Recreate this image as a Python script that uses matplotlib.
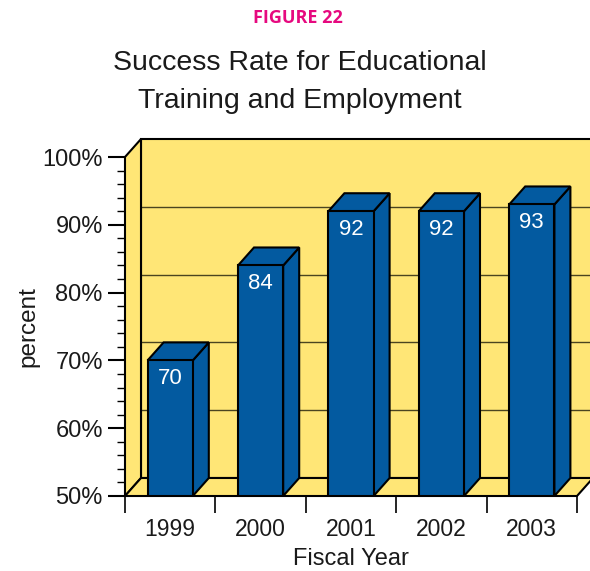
import matplotlib.pyplot as plt
from matplotlib.patches import Polygon, Rectangle

plt.rcParams['font.family'] = ['Liberation Sans', 'DejaVu Sans']

years = ['1999', '2000', '2001', '2002', '2003']
rates = [70, 84, 92, 92, 93]
ytick_values = [50, 60, 70, 80, 90, 100]

wall_yellow = '#FFE676'
bar_blue = '#035AA0'
pink = '#E6097F'
text_col = '#1a1a1a'

fig = plt.figure(figsize=(5.9, 5.71), dpi=100)
ax = fig.add_axes([125 / 590, 75 / 571, 452 / 590, 339 / 571])
ax.set_xlim(-0.5, len(years) - 0.5)
ax.set_ylim(50, 100)
for s in ax.spines.values():
    s.set_visible(False)
ax.patch.set_visible(False)

# depth of the fake 3d box, given in pixels and turned into data units
fig.canvas.draw()
inv = ax.transData.inverted()
p0 = inv.transform(ax.transData.transform((0, 50)))
p1 = inv.transform(ax.transData.transform((0, 50)) + [16, 18])
dx, dy = p1 - p0
x0, x1 = ax.get_xlim()
y0, y1 = ax.get_ylim()

edge = dict(edgecolor='black', linewidth=1.5, clip_on=False)

# back wall, left wall, floor
ax.add_patch(Rectangle((x0 + dx, y0 + dy), x1 - x0, y1 - y0,
                       facecolor=wall_yellow, zorder=1, **edge))
for v in ytick_values[1:-1]:
    ax.plot([x0 + dx, x1 + dx], [v + dy, v + dy], color='#4a4420',
            lw=1.0, zorder=1.5, clip_on=False)
ax.add_patch(Polygon([(x0, y0), (x0, y1), (x0 + dx, y1 + dy), (x0 + dx, y0 + dy)],
                     facecolor=wall_yellow, zorder=2, **edge))
ax.add_patch(Polygon([(x0, y0), (x1, y0), (x1 + dx, y0 + dy), (x0 + dx, y0 + dy)],
                     facecolor=wall_yellow, zorder=2, **edge))

# bars: front face, side, top
w = 0.5
xs = range(len(years))
ax.bar(xs, [r - 50 for r in rates], bottom=50, width=w, color=bar_blue,
       edgecolor='black', linewidth=1.5, zorder=4)
for x, r in zip(xs, rates):
    l, rt = x - w / 2, x + w / 2
    ax.add_patch(Polygon([(rt, 50), (rt, r), (rt + dx, r + dy), (rt + dx, 50 + dy)],
                         facecolor=bar_blue, zorder=3, **edge))
    ax.add_patch(Polygon([(l, r), (rt, r), (rt + dx, r + dy), (l + dx, r + dy)],
                         facecolor=bar_blue, zorder=3, **edge))
    ax.annotate(str(r), (x, r), xytext=(0, -18), textcoords='offset pixels',
                ha='center', va='center', color='white', fontsize=16, zorder=5)

# axes ticks
ax.set_yticks(ytick_values)
ax.set_yticklabels([f'{v}%' for v in ytick_values], fontsize=17, color=text_col)
ax.set_yticks(range(50, 101, 2), minor=True)
ax.tick_params(axis='y', which='major', length=12, width=1.5, direction='out', pad=4)
ax.tick_params(axis='y', which='minor', length=6, width=1.0, direction='out')

ax.set_xticks([i - 0.5 for i in range(len(years) + 1)])
ax.set_xticklabels([''] * (len(years) + 1))
ax.set_xticks(list(xs), minor=True)
ax.set_xticklabels(years, minor=True, fontsize=16.5, color=text_col)
ax.tick_params(axis='x', which='major', length=12, width=1.2, direction='out')
ax.tick_params(axis='x', which='minor', length=0, pad=16)

ax.set_ylabel('percent', fontsize=17.5, labelpad=2, color=text_col)
ax.set_xlabel('Fiscal Year', fontsize=17, labelpad=5, color=text_col)

fig.text(0.505, 1 - 18 / 571, 'FIGURE 22', color=pink, fontsize=13,
         fontweight='bold', family=['Open Sans', 'DejaVu Sans'],
         ha='center', va='center')
fig.text(300 / 590, 1 - 70 / 571, 'Success Rate for Educational',
         fontsize=20.5, ha='center', va='baseline', color=text_col)
fig.text(300 / 590, 1 - 108 / 571, 'Training and Employment',
         fontsize=20.5, ha='center', va='baseline', color=text_col)

fig.savefig('out.png', dpi=100)
